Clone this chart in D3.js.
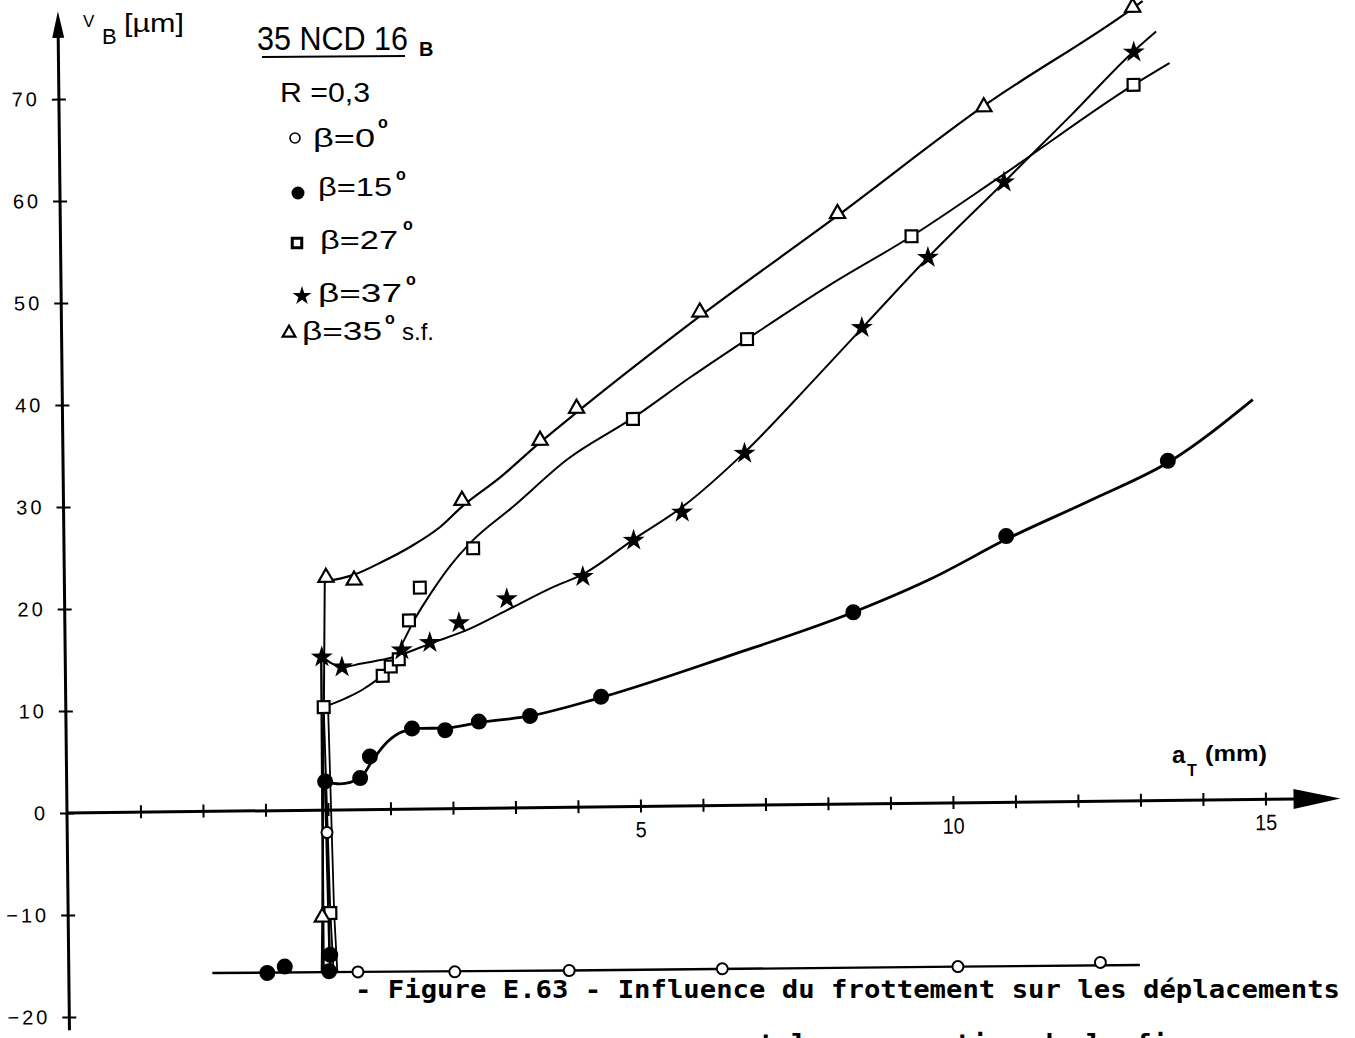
<!DOCTYPE html>
<html><head><meta charset="utf-8">
<script src="https://cdn.jsdelivr.net/npm/d3@7"></script>
<style>body{margin:0;background:#fff}</style>
</head><body><svg id="c" width="1355" height="1038" font-family="Liberation Sans, Arial, sans-serif"></svg>
<script>
// ---------- data (a_T in mm, V_B in µm) ----------
const yTickValues = [-20,-10,0,10,20,30,40,50,60,70];
const xTickMinor = [-3,-2,-1,0,1,2,3,4,5,6,7,8,9,10,11,12,13,14,15];
const xTickLabels = [5,10,15];

// markers
const beta0 = [[-0.02,-2.2],[0.45,-15.9],[2.0,-16.0],[3.83,-16.0],[6.28,-16.0],[10.05,-16.05],[12.33,-15.8]];
const beta15 = [[-1.0,-15.9],[-0.72,-15.3],[-0.01,-15.8],[0.01,-14.2],[-0.04,2.8],[0.52,3.1],[0.68,5.2],[1.36,7.9],[1.89,7.7],[2.43,8.5],[3.25,9.0],[4.39,10.8],[8.44,18.8],[10.9,26.1],[13.5,33.3]];
const beta27 = [[0.02,-10.1],[-0.05,10.1],[0.90,13.1],[1.03,14.0],[1.16,14.7],[1.33,18.5],[1.51,21.7],[2.37,25.5],[4.95,38.0],[6.79,45.7],[9.44,55.6],[13.02,70.2]];
const beta37 = [[-0.07,15.0],[0.25,14.0],[1.21,15.6],[1.66,16.3],[2.13,18.2],[2.9,20.5],[4.12,22.6],[4.94,26.1],[5.72,28.8],[6.73,34.5],[8.63,46.7],[9.7,53.5],[10.93,60.8],[13.03,73.4]];
const beta35sf = [[-0.11,-10.5],[0.01,22.8],[0.46,22.5],[2.2,30.2],[3.46,36.0],[4.05,39.1],[6.04,48.4],[8.26,57.9],[10.62,68.2],[13.02,77.8]];

// drawn curves
const curve0 = [[-1.88,-15.85],[0.45,-15.9],[3.83,-16.0],[10.05,-16.05],[12.96,-16.1]];
const drop0 = [[0.0,-15.9],[-0.02,-2.2]];
const curve15 = [[-0.04,2.76],[0.2,2.55],[0.52,3.1],[0.73,4.9],[0.96,6.6],[1.21,7.6],[1.49,7.9],[1.89,7.9],[2.43,8.4],[3.25,9.0],[4.37,10.7],[6.41,14.6],[8.44,18.8],[9.69,22.0],[10.94,25.9],[12.25,29.5],[13.55,33.3],[14.87,39.2]];
const drop15 = [[0.02,-15.8],[0.0,-14.2],[-0.04,2.76]];
const curve27 = [[-0.05,10.1],[0.29,10.9],[0.61,11.9],[0.94,13.5],[1.18,15.8],[1.43,18.7],[1.67,21.0],[2.0,23.8],[2.37,26.3],[3.01,29.5],[3.89,34.1],[4.95,38.1],[5.87,42.0],[6.79,45.7],[8.12,50.9],[9.44,55.6],[10.86,61.3],[13.02,70.2],[13.6,72.3]];
const drop27 = [[0.06,-15.9],[0.02,-10.1],[-0.05,10.1]];
const drop27b = [[0.12,-15.9],[0.08,-10.1],[0.02,10.1]];
const curve37 = [[-0.08,15.1],[0.27,14.0],[0.54,14.3],[1.07,14.9],[1.71,16.3],[2.26,17.5],[3.0,19.7],[3.64,21.6],[4.14,22.9],[4.94,26.2],[5.72,29.3],[6.73,34.6],[7.85,41.6],[8.64,46.7],[9.7,53.5],[10.93,60.8],[12.0,67.2],[13.03,73.5],[13.39,75.4]];
const drop37 = [[-0.1,-15.9],[-0.08,15.1]];
const curve35 = [[-0.01,22.4],[0.44,23.0],[0.92,24.3],[1.36,25.7],[1.84,27.6],[2.2,29.6],[2.81,32.4],[3.46,35.8],[4.05,38.7],[6.04,48.0],[8.26,57.7],[10.62,68.3],[13.02,77.7],[13.18,78.4]];
const drop35 = [[-0.13,-15.9],[-0.11,-10.5],[-0.01,22.4]];

// ---------- drawing ----------
const svg = d3.select('#c');
svg.append('rect').attr('width',1355).attr('height',1038).attr('fill','#fff');
const x = d3.scaleLinear().domain([0,15]).range([328,1265.5]);
const y = d3.scaleLinear().domain([-20,70]).range([1017,99]);
const x0 = x(-4.176); // vertical axis position

// the scanned figure is slightly rotated
const g = svg.append('g').attr('transform',`rotate(-0.65,${x0},${y(0)})`);

// axis lines + arrows
g.append('line').attr('x1',x0).attr('x2',x0).attr('y1',y(-21.3)).attr('y2',y(77)).attr('stroke','#000').attr('stroke-width',3);
g.append('path').attr('d',`M${x0},${y(78.6)} L${x0-6},${y(76)} L${x0+6},${y(76)} Z`).attr('fill','#000');
g.append('line').attr('x1',x0).attr('x2',x(15.5)).attr('y1',y(0)).attr('y2',y(0)).attr('stroke','#000').attr('stroke-width',3);
g.append('path').attr('d',`M${x(16.2)},${y(0)} L${x(15.45)},${y(0)-10} L${x(15.45)},${y(0)+10} Z`).attr('fill','#000');

// y ticks (cross shaped)
const yAxL = g.append('g').attr('transform',`translate(${x0},0)`)
  .call(d3.axisLeft(y).tickValues(yTickValues).tickSize(7).tickPadding(12).tickFormat(d3.format('d')));
const yAxR = g.append('g').attr('transform',`translate(${x0},0)`)
  .call(d3.axisRight(y).tickValues(yTickValues).tickSize(7).tickFormat(''));
[yAxL,yAxR].forEach(a=>{a.select('.domain').remove();a.selectAll('line').attr('stroke-width',2);});
yAxL.selectAll('text').attr('font-size',20).attr('letter-spacing',3).attr('font-family','Liberation Sans').attr('fill','#000');

// x ticks
const xAxB = g.append('g').attr('transform',`translate(0,${y(0)})`)
  .call(d3.axisBottom(x).tickValues(xTickMinor).tickSize(6).tickFormat(''));
const xAxT = g.append('g').attr('transform',`translate(0,${y(0)})`)
  .call(d3.axisTop(x).tickValues(xTickMinor).tickSize(7).tickFormat(''));
[xAxB,xAxT].forEach(a=>{a.select('.domain').remove();a.selectAll('line').attr('stroke-width',2);});
const xLab = g.append('g').attr('transform',`translate(0,${y(0)})`)
  .call(d3.axisBottom(x).tickValues(xTickLabels).tickSize(0).tickPadding(15));
xLab.select('.domain').remove();
xLab.selectAll('.tick').each(function(d){
  d3.select(this).select('text').attr('font-size',22).attr('font-family','Liberation Sans').attr('fill','#000')
    .attr('textLength',d>=10?22:11).attr('lengthAdjust','spacingAndGlyphs');
});

// curves
const smooth = d3.line().x(d=>x(d[0])).y(d=>y(d[1])).curve(d3.curveMonotoneX);
const straight = d3.line().x(d=>x(d[0])).y(d=>y(d[1]));
const drawPath = (data,gen,w)=>g.append('path').attr('d',gen(data)).attr('fill','none').attr('stroke','#000').attr('stroke-width',w).attr('stroke-linejoin','round');
drawPath(curve0,straight,2.4);
drawPath(drop0,straight,1.6);
drawPath(drop35,straight,2);
drawPath(drop37,straight,2.4);
drawPath(drop27,straight,1.8);
drawPath(drop27b,straight,1.8);
drawPath(drop15,straight,2.6);
drawPath(curve15,smooth,2.8);
drawPath(curve27,smooth,2);
drawPath(curve37,smooth,2);
drawPath(curve35,smooth,2.2);

// markers
const sym = (type,size)=>d3.symbol().type(type).size(size)();
g.selectAll('.m0').data(beta0).join('circle').attr('cx',d=>x(d[0])).attr('cy',d=>y(d[1])).attr('r',5.5)
  .attr('fill','#fff').attr('stroke','#000').attr('stroke-width',2);
g.selectAll('.m15').data(beta15).join('circle').attr('cx',d=>x(d[0])).attr('cy',d=>y(d[1])).attr('r',8).attr('fill','#000');
g.selectAll('.m27').data(beta27).join('path').attr('d',sym(d3.symbolSquare,140))
  .attr('transform',d=>`translate(${x(d[0])},${y(d[1])})`).attr('fill','#fff').attr('stroke','#000').attr('stroke-width',2.2);
g.selectAll('.m37').data(beta37).join('path').attr('d',sym(d3.symbolStar,150))
  .attr('transform',d=>`translate(${x(d[0])},${y(d[1])})`).attr('fill','#000');
g.selectAll('.m35').data(beta35sf).join('path').attr('d',sym(d3.symbolTriangle,100))
  .attr('transform',d=>`translate(${x(d[0])},${y(d[1])})`).attr('fill','#fff').attr('stroke','#000').attr('stroke-width',2.2);

// ---------- titles (screen coordinates) ----------
const T = (s,px,py,fs,opt={})=>{const t=svg.append('text').attr('x',px).attr('y',py).attr('font-size',fs).attr('fill','#000').text(s);
  Object.entries(opt).forEach(([k,v])=>t.attr(k,v)); return t;};
// y title
T('V',83,27,17);
T('B',102,44,22);
T('[µm]',124,32,25,{textLength:60,lengthAdjust:'spacingAndGlyphs'});
// x title
T('a',1172,763,24,{'font-weight':'bold'});
T('T',1187,776,16,{'font-weight':'bold'});
T('(mm)',1205,761,22,{'font-weight':'bold',textLength:62,lengthAdjust:'spacingAndGlyphs'});

// legend
T('35 NCD 16',257,50,33,{textLength:151,lengthAdjust:'spacingAndGlyphs'});
svg.append('line').attr('x1',262).attr('x2',405).attr('y1',57).attr('y2',56).attr('stroke','#000').attr('stroke-width',2);
T('B',419,56,20,{'font-weight':'bold'});
T('R =0,3',280,102,28,{textLength:90,lengthAdjust:'spacingAndGlyphs'});
svg.append('circle').attr('cx',295).attr('cy',138).attr('r',5).attr('fill','#fff').attr('stroke','#000').attr('stroke-width',1.6);
T('β=0',313,147,26,{textLength:62,lengthAdjust:'spacingAndGlyphs'});
T('o',378,128,16,{'font-weight':'bold'});
svg.append('circle').attr('cx',298).attr('cy',193).attr('r',6.5).attr('fill','#000');
T('β=15',318,196,26,{textLength:74,lengthAdjust:'spacingAndGlyphs'});
T('o',396,180,16,{'font-weight':'bold'});
svg.append('path').attr('d',sym(d3.symbolSquare,90)).attr('transform','translate(297,243)').attr('fill','#fff').attr('stroke','#000').attr('stroke-width',3);
T('β=27',320,249,26,{textLength:78,lengthAdjust:'spacingAndGlyphs'});
T('o',403,230,16,{'font-weight':'bold'});
svg.append('path').attr('d',sym(d3.symbolStar,110)).attr('transform','translate(302,296)').attr('fill','#000');
T('β=37',318,302,26,{textLength:84,lengthAdjust:'spacingAndGlyphs'});
T('o',406,285,16,{'font-weight':'bold'});
svg.append('path').attr('d',sym(d3.symbolTriangle,70)).attr('transform','translate(289,333)').attr('fill','#fff').attr('stroke','#000').attr('stroke-width',2.2);
T('β=35',302,340,26,{textLength:80,lengthAdjust:'spacingAndGlyphs'});
T('o',385,324,16,{'font-weight':'bold'});
T('s.f.',402,340,24,{textLength:32,lengthAdjust:'spacingAndGlyphs'});

// caption
T('- Figure E.63 - Influence du frottement sur les déplacements',355,998,24,
  {'font-family':'DejaVu Sans Mono','font-weight':'bold',textLength:985,lengthAdjust:'spacingAndGlyphs'});
T('et la propagation de la fissure',742,1052,24,
  {'font-family':'DejaVu Sans Mono','font-weight':'bold',textLength:508,lengthAdjust:'spacingAndGlyphs'});
</script></body></html>
